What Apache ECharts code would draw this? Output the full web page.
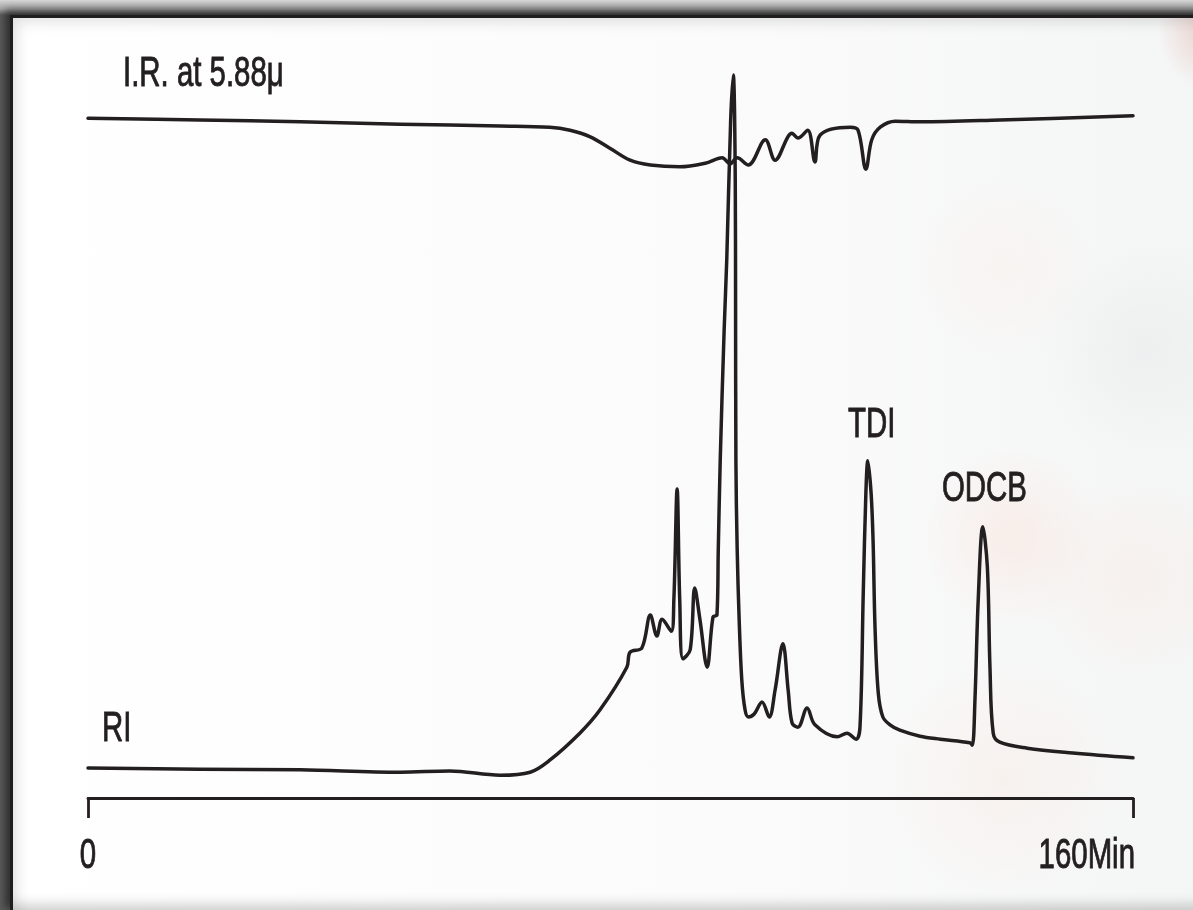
<!DOCTYPE html>
<html>
<head>
<meta charset="utf-8">
<script src="https://cdn.jsdelivr.net/npm/echarts@6/dist/echarts.min.js"></script>
<style>
  html, body { margin: 0; padding: 0; width: 1193px; height: 910px; overflow: hidden; }
  body { background: linear-gradient(180deg, #d6d6d6 0px, #a4a4a4 9px, #5c5c5c 15px); }
  #frame {
    position: absolute; left: 10px; top: 15px; width: 1200px; height: 892px;
    border-left: 3px solid #1f1d1e; border-top: 3px solid #1f1d1e;
    box-shadow: -3px -3px 8px 2px rgba(0,0,0,0.5), inset 8px 8px 14px -4px rgba(0,0,0,0.12), inset 0 -14px 12px -8px rgba(0,0,0,0.18);
    background:
      radial-gradient(ellipse 50px 60px at 1195px 10px, rgba(220,170,160,0.5), rgba(220,170,160,0) 100%),
      radial-gradient(circle 90px at 1000px 520px, rgba(250,212,198,0.30), rgba(250,212,198,0) 100%),
      radial-gradient(circle 110px at 1130px 330px, rgba(215,222,222,0.25), rgba(215,222,222,0) 100%),
      radial-gradient(circle 120px at 990px 760px, rgba(250,218,205,0.22), rgba(250,218,205,0) 100%),
      radial-gradient(circle 100px at 1120px 560px, rgba(252,224,212,0.25), rgba(252,224,212,0) 100%),
      radial-gradient(circle 90px at 990px 250px, rgba(250,228,218,0.22), rgba(250,228,218,0) 100%),
      linear-gradient(90deg, #ffffff 0%, #fbfbfb 60%, #f4f5f5 100%);
  }
  #chart { position: absolute; left: 0; top: 0; width: 1193px; height: 910px; }
</style>
</head>
<body>
<div id="frame"></div>
<div id="chart"></div>
<script>
// Time axis (minutes) and tick labels
const xTicks = [0, 160];
const xTickLabels = ['0', '160Min'];

// RI trace (refractive index detector), arbitrary units
const riTime = [0, 17.1, 32.5, 47.8, 55.4, 63.1, 67.7, 70.7, 75.3, 78.4, 82.5, 83.0, 84.8, 86.1, 87.1, 87.9, 89.3, 89.7, 90.2, 90.6, 91.1, 92.2, 92.9, 93.7, 94.8, 95.7, 96.3, 96.5, 96.8, 97.4, 97.8, 98.4, 98.8, 99.1, 99.15, 99.2, 99.4, 99.7, 100.1, 100.6, 101.1, 102.0, 103.2, 104.3, 105.2, 106.4, 107.2, 107.8, 108.7, 110.1, 111.3, 114.7, 116.2, 117.6, 118.2, 118.7, 119.1, 119.4, 119.9, 120.2, 120.5, 121.0, 121.7, 122.8, 124.3, 127.4, 130.5, 135.0, 135.4, 135.8, 136.3, 137.0, 137.7, 138.1, 138.6, 139.6, 143.8, 150.8, 160];
const riSignal = [5.0, 4.8, 4.7, 4.3, 4.5, 3.8, 4.3, 6.3, 10.8, 14.7, 21.8, 24.3, 25.0, 30.5, 27.0, 29.8, 27.8, 33.0, 51.5, 33.0, 23.2, 24.7, 35.0, 29.7, 21.8, 30.2, 30.5, 41.3, 56.3, 78.0, 89.7, 113.0, 120.5, 103.0, 83.0, 56.3, 41.3, 29.7, 19.7, 14.7, 13.5, 14.0, 16.0, 13.5, 18.0, 25.7, 18.0, 12.5, 11.8, 15.0, 12.2, 10.2, 10.8, 9.8, 11.8, 34.2, 50.8, 56.2, 50.8, 43.0, 28.5, 17.5, 13.5, 12.2, 11.3, 10.3, 9.8, 9.2, 8.8, 16.3, 33.0, 45.2, 38.5, 21.8, 10.8, 9.3, 8.3, 7.5, 6.7];

// IR trace at 5.88 micron, arbitrary units
const irTime = [0, 17.1, 32.5, 47.8, 63.1, 70.7, 73.8, 76.9, 79.9, 83.0, 86.1, 90.6, 94.5, 97.1, 98.3, 99.4, 101.1, 103.7, 105.2, 107.8, 108.7, 110.2, 111.3, 112.1, 116.7, 117.9, 119.1, 120.0, 121.3, 123.6, 127.4, 139.6, 160];
const irSignal = [113.3, 113.0, 112.7, 112.3, 112.0, 111.8, 111.3, 110.2, 108.3, 106.3, 105.5, 105.2, 105.8, 106.7, 105.7, 106.7, 105.5, 109.7, 106.3, 110.8, 110.0, 111.3, 106.0, 110.5, 111.8, 111.3, 104.8, 109.7, 111.8, 112.8, 112.7, 113.0, 113.7];

// Annotation texts
const labelIR = 'I.R. at 5.88\u03bc';
const labelRI = 'RI';
const peakLabels = ['TDI', 'ODCB'];

const zip = (a, b) => a.map((v, i) => [v, b[i]]);
const INK = '#231f20';
const FONT = '42px "Liberation Sans", Arial, sans-serif';
const SX = 0.7;

function txt(x, y, text, align) {
  return {
    type: 'text', x: x, y: y, scaleX: SX, scaleY: 1, silent: true,
    style: { text: text, fill: INK, stroke: INK, lineWidth: 0.9, font: FONT, align: align || 'left', verticalAlign: 'middle' }
  };
}

const chart = echarts.init(document.getElementById('chart'), null, { renderer: 'canvas' });
chart.setOption({
  animation: false,
  backgroundColor: 'transparent',
  grid: { left: 88, right: 60, top: 60, bottom: 112 },
  xAxis: {
    type: 'value', min: 0, max: 160, interval: 160,
    axisLine: { show: true, lineStyle: { color: INK, width: 2.8 } },
    axisTick: { show: true, length: 20, lineStyle: { color: INK, width: 2.8 } },
    splitLine: { show: false },
    axisLabel: { show: false }
  },
  yAxis: { type: 'value', min: 0, max: 123, show: false },
  series: [
    {
      name: 'IR', type: 'line', data: zip(irTime, irSignal), showSymbol: false, smooth: 0.35,
      lineStyle: { color: INK, width: 3.5, cap: 'round', join: 'round' }, z: 2
    },
    {
      name: 'RI', type: 'line', data: zip(riTime, riSignal), showSymbol: false, smooth: 0.35,
      lineStyle: { color: INK, width: 3.5, cap: 'round', join: 'round' }, z: 3
    }
  ]
});

// Tick labels placed through the x scale (condensed type like the original)
const p0 = chart.convertToPixel({ xAxisIndex: 0, yAxisIndex: 0 }, [xTicks[0], 0]);
const p1 = chart.convertToPixel({ xAxisIndex: 0, yAxisIndex: 0 }, [xTicks[1], 0]);
const labelY = p0[1] + 58;

chart.setOption({
  graphic: [
    txt(123, 74, labelIR),
    txt(102, 729, labelRI),
    txt(848, 425, peakLabels[0]),
    txt(942, 489, peakLabels[1]),
    txt(p0[0], labelY, xTickLabels[0], 'center'),
    txt(p1[0] + 2, labelY, xTickLabels[1], 'right')
  ]
});
</script>
</body>
</html>
